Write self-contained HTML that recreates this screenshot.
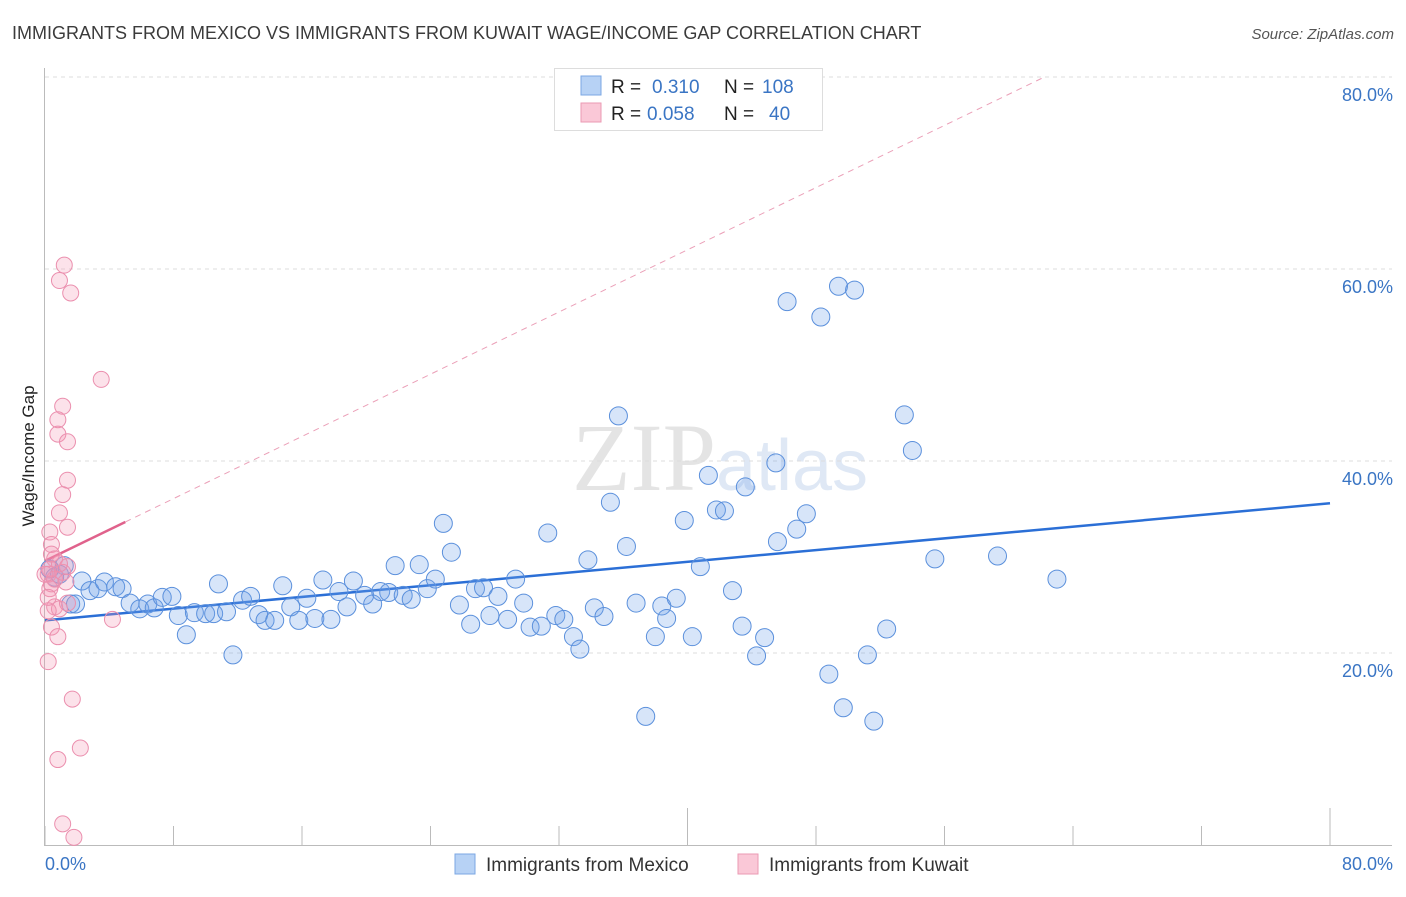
<!DOCTYPE html>
<html><head><meta charset="utf-8"><style>
body{margin:0;background:#fff;font-family:"Liberation Sans",sans-serif;}
</style></head><body>
<svg width="1406" height="892" viewBox="0 0 1406 892" xmlns="http://www.w3.org/2000/svg" style="font-family:'Liberation Sans',sans-serif">
<text x="12" y="39" font-size="18" fill="#3b3b3b">IMMIGRANTS FROM MEXICO VS IMMIGRANTS FROM KUWAIT WAGE/INCOME GAP CORRELATION CHART</text>
<text x="1394" y="39" font-size="15" fill="#555" text-anchor="end" font-style="italic">Source: ZipAtlas.com</text>
<text x="720" y="490" font-size="96" fill="#e4e4e4" text-anchor="middle" font-family="Liberation Serif,serif">ZIP<tspan fill="#dfe8f5" font-family="Liberation Sans,sans-serif" font-size="72">atlas</tspan></text>
<g id="grid"></g>
<g id="axes"></g>
<text transform="translate(34,456) rotate(-90)" font-size="17" fill="#222" text-anchor="middle">Wage/Income Gap</text>
<g id="trend"></g>
<g id="pts"></g>
<g>
<rect x="554.5" y="68.5" width="268" height="62" fill="#fff" stroke="#ddd"/>
<rect x="581" y="76" width="20" height="19" fill="#b7d2f5" stroke="#7ba7e3"/>
<rect x="581" y="103" width="20" height="19" fill="#fac8d7" stroke="#eb9ab3"/>
<text x="611" y="93" font-size="19" fill="#222">R = <tspan fill="#3a75c4" x="652">0.310</tspan><tspan x="724" fill="#222">N = </tspan><tspan fill="#3a75c4" x="762">108</tspan></text>
<text x="611" y="120" font-size="19" fill="#222">R = <tspan fill="#3a75c4" x="647">0.058</tspan><tspan x="724" fill="#222">N = </tspan><tspan fill="#3a75c4" x="769">40</tspan></text>
</g>
<g>
<rect x="455" y="854" width="20" height="20" fill="#b7d2f5" stroke="#7ba7e3"/>
<text x="486" y="871" font-size="19" fill="#333">Immigrants from Mexico</text>
<rect x="738" y="854" width="20" height="20" fill="#fac8d7" stroke="#eb9ab3"/>
<text x="769" y="871" font-size="19" fill="#333">Immigrants from Kuwait</text>
</g>
</svg>
<script>
const blueX=[0.3,0.6,0.9,1.2,1.6,1.9,2.3,2.8,3.3,3.7,4.4,4.8,5.3,5.9,6.4,6.8,7.3,7.9,8.3,8.8,9.3,10.0,10.5,10.8,11.3,11.7,12.3,12.8,13.3,13.7,14.3,14.8,15.3,15.8,16.3,16.8,17.3,17.8,18.3,18.8,19.2,19.9,20.4,20.9,21.4,21.8,22.3,22.8,23.3,23.8,24.3,24.8,25.3,25.8,26.5,26.8,27.3,27.7,28.2,28.8,29.3,29.8,30.2,30.9,31.3,31.8,32.3,32.9,33.3,33.8,34.2,34.8,35.2,35.7,36.2,36.8,37.4,38.0,38.4,38.7,39.3,39.8,40.3,40.8,41.3,41.8,42.3,42.8,43.4,43.6,44.3,44.8,45.5,45.6,46.2,46.8,47.4,48.3,48.8,49.4,49.7,50.4,51.2,51.6,52.4,53.5,54.0,55.4,59.3,63.0];
const blueY=[28.75,27.9,28.2,29.1,25.1,25.1,27.5,26.5,26.7,27.4,26.9,26.7,25.2,24.6,25.1,24.7,25.8,25.9,23.9,21.9,24.2,24.1,24.1,27.2,24.3,19.8,25.5,25.9,24.0,23.4,23.4,27.0,24.8,23.4,25.7,23.6,27.6,23.5,26.4,24.8,27.5,26.0,25.1,26.4,26.3,29.1,26.0,25.6,29.2,26.7,27.7,33.5,30.5,25.0,23.0,26.7,26.8,23.9,25.9,23.5,27.7,25.2,22.7,22.8,32.5,23.9,23.5,21.7,20.4,29.7,24.7,23.8,35.7,44.7,31.1,25.2,13.4,21.7,24.9,23.6,25.7,33.8,21.7,29.0,38.5,34.9,34.8,26.5,22.8,37.3,19.7,21.6,39.8,31.6,56.6,32.9,34.5,55.0,17.8,58.2,14.3,57.8,19.8,12.9,22.5,44.8,41.1,29.8,30.1,27.7];
const pinkX=[1.2,0.9,1.6,3.5,1.1,0.8,0.8,1.4,1.4,1.1,0.9,1.4,0.3,0.4,0.6,0.3,0.2,0.6,1.1,1.4,0.3,0.6,0.9,1.4,0.2,4.2,0.4,0.8,0.2,1.7,2.2,0.8,1.1,1.8,0.4,0.0,0.2,0.9,1.3,0.4];
const pinkY=[60.4,58.8,57.5,48.5,45.7,44.3,42.8,42.0,38.0,36.5,34.6,33.1,32.6,31.3,29.8,28.75,28.2,27.7,28.4,29.0,26.7,24.8,24.6,25.2,24.4,23.5,22.7,21.7,19.1,15.2,10.1,8.9,2.2,0.8,27.2,28.2,25.8,29.3,27.4,30.3];
const blueTrend=[23.4,35.6];   // y at x=0 and x=80
const pinkTrend=[29.6,0.81];   // intercept, slope
const xTicks=[0,8,16,24,32,40,48,56,64,72,80];
const yTicks=[20,40,60,80];
const yTickLabels=["20.0%","40.0%","60.0%","80.0%"];
const NS="http://www.w3.org/2000/svg";
const X=v=>45+v*16.0625, Y=v=>845-v*9.6;
function mk(tag,attrs,parent){const e=document.createElementNS(NS,tag);for(const k in attrs)e.setAttribute(k,attrs[k]);document.getElementById(parent).appendChild(e);return e;}
yTicks.forEach((t,i)=>{
 const l=mk('line',{x1:45,x2:1392,y1:Y(t),y2:Y(t),stroke:'#ddd','stroke-dasharray':'4,4'},'grid');
 
 
 const tx=mk('text',{x:1393,y:Y(t)+24,'font-size':18,fill:'#3a75c4','text-anchor':'end'},'grid');
 tx.textContent=yTickLabels[i];
 
 
});
let a=mk('line',{x1:44.5,x2:44.5,y1:68,y2:846,stroke:'#bbb'},'axes');


a=mk('line',{x1:44,x2:1392,y1:845.5,y2:845.5,stroke:'#bbb'},'axes');


xTicks.forEach(t=>{
 const tl=mk('line',{x1:X(t),x2:X(t),y1:(t===40||t===80)?808:826,y2:845,stroke:'#bbb'},'axes');
 
 
});
let lx=mk('text',{x:45,y:870,'font-size':18,fill:'#3a75c4'},'axes');lx.textContent='0.0%';


lx=mk('text',{x:1393,y:870,'font-size':18,fill:'#3a75c4','text-anchor':'end'},'axes');lx.textContent='80.0%';


blueX.forEach((v,i)=>{
 const c=mk('circle',{cx:X(v),cy:Y(blueY[i]),r:9,fill:'rgba(110,160,235,0.28)',stroke:'#5b90dc','stroke-width':1},'pts');
 
 
});
pinkX.forEach((v,i)=>{
 const c=mk('circle',{cx:X(v),cy:Y(pinkY[i]),r:8,fill:'rgba(245,150,180,0.28)',stroke:'#eb8fae','stroke-width':1},'pts');
 
 
});
let t=mk('line',{x1:X(0),y1:Y(blueTrend[0]),x2:X(80),y2:Y(blueTrend[1]),stroke:'#2b6fd6','stroke-width':2.5},'trend');


const xe=(80-pinkTrend[0])/pinkTrend[1];
t=mk('line',{x1:X(5),y1:Y(pinkTrend[0]+5*pinkTrend[1]),x2:X(xe),y2:Y(80),stroke:'#eba0b8','stroke-width':1,'stroke-dasharray':'6,5'},'trend');


t=mk('line',{x1:X(0),y1:Y(pinkTrend[0]),x2:X(5),y2:Y(pinkTrend[0]+5*pinkTrend[1]),stroke:'#e0628c','stroke-width':2.5},'trend');


</script>
</body></html>
